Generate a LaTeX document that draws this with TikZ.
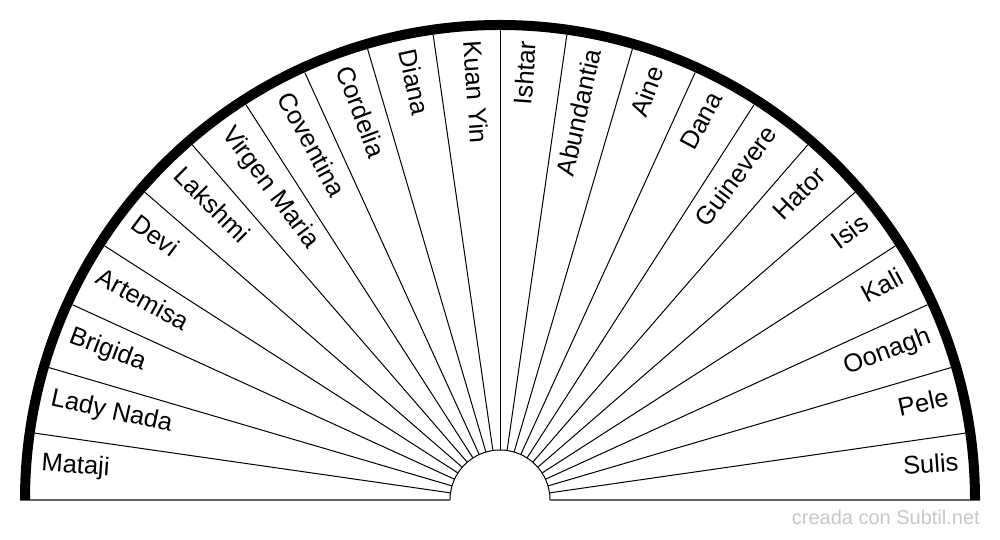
\documentclass[tikz,border=0pt]{standalone}
\usepackage{fontspec}
\setmainfont{Liberation Sans}
\usetikzlibrary{calc}
\begin{document}
\begin{tikzpicture}[x=1pt,y=1pt,
  spoke/.style={line width=1pt,black},
  baseln/.style={line width=1.2pt,black!60},
  rim/.style={line width=10pt,black},
  lab/.style={font=\fontsize{25.5}{30}\selectfont, inner sep=0pt, text height=0.716em, text depth=0pt},
  credit/.style={font=\fontsize{20}{24}\selectfont, inner sep=0pt, text=black!22}]
\useasboundingbox (0,0) rectangle (1000,540);
\coordinate (c) at (500,40);
% spokes
\foreach \k in {1,...,21}
  \draw[spoke] ($(c)+(\k*180/22:50)$) -- ($(c)+(\k*180/22:470)$);
% inner semicircle
\draw[spoke] (450,40) arc[start angle=180,end angle=0,radius=50];
% base line
\draw[baseln] (20,40) -- (450,40);
\draw[baseln] (550,40) -- (980,40);
% outer rim
\draw[rim] (25,40) arc[start angle=180,end angle=0,radius=475];
% left labels
\foreach \n [count=\i from 0] in {Mataji,Lady Nada,Brigida,Artemisa,Devi,Lakshmi,Virgen Maria,Coventina,Cordelia,Diana,Kuan Yin}{
  \pgfmathsetmacro\ang{180-(\i+0.5)*180/22}
  \pgfmathsetmacro\rot{\ang-180}
  \node[lab,anchor=west,rotate=\rot] (L\i) at ($(c)+(\ang:460)$) {\n};
}
% right labels
\foreach \n [count=\i from 0] in {Sulis,Pele,Oonagh,Kali,Isis,Hator,Guinevere,Dana,Aine,Abundantia,Ishtar}{
  \pgfmathsetmacro\ang{(\i+0.5)*180/22}
  \node[lab,anchor=east,rotate=\ang] (R\i) at ($(c)+(\ang:460)$) {\n};
}
\node[credit,anchor=base east] (cr) at (980,15) {creada con Subtil.net};
\end{tikzpicture}
\end{document}
